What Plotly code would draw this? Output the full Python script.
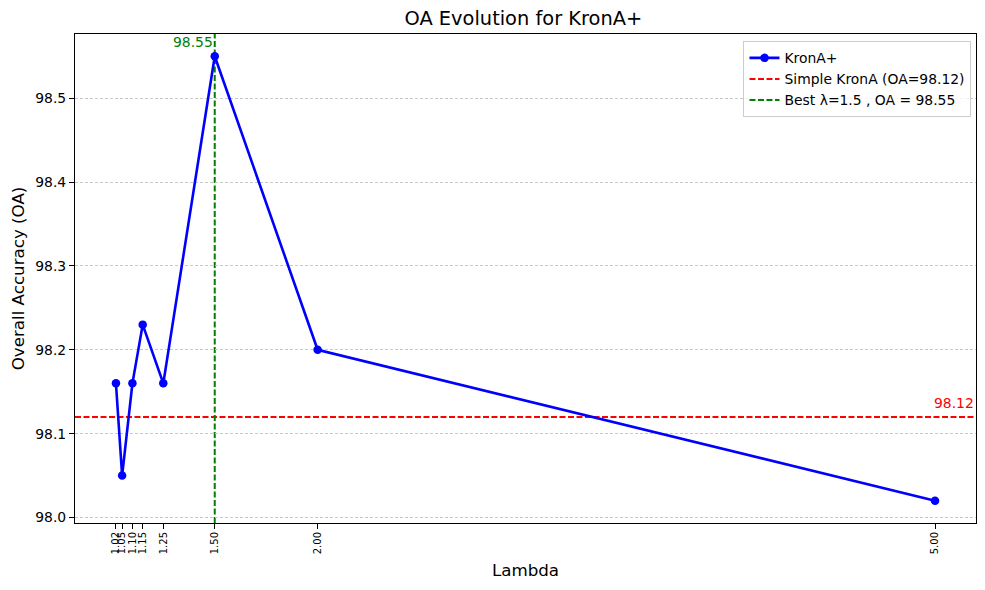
import plotly.graph_objects as go

lambdas = [1.02, 1.05, 1.10, 1.15, 1.25, 1.50, 2.00, 5.00]
oa_values = [98.16, 98.05, 98.16, 98.23, 98.16, 98.55, 98.20, 98.02]
tick_labels = ["1.02", "1.05", "1.10", "1.15", "1.25", "1.50", "2.00", "5.00"]
simple_oa = 98.12
best_lambda = 1.5
best_oa = 98.55

font = "DejaVu Sans"

fig = go.Figure()
fig.add_trace(go.Scatter(
    x=lambdas, y=oa_values, mode="lines+markers", name="KronA+",
    line=dict(color="#0000ff", width=2.6),
    marker=dict(color="#0000ff", size=8.5),
))

fig.add_hline(y=simple_oa, line=dict(color="#ff0000", width=2, dash="6px,2.5px"),
              showlegend=True, name=f"Simple KronA (OA={simple_oa})", layer="below")
fig.add_vline(x=best_lambda, line=dict(color="#008000", width=2, dash="6px,2.5px"),
              showlegend=True, name=f"Best λ={best_lambda} , OA = {best_oa}", layer="below")

fig.add_annotation(x=best_lambda, y=best_oa, text=f"{best_oa:.2f}", showarrow=False,
                   xanchor="right", yanchor="bottom", yshift=4, xshift=0,
                   font=dict(color="#008000", size=13.9, family=font))
fig.add_annotation(x=1, xref="paper", y=simple_oa, text=f"{simple_oa:.2f}", showarrow=False,
                   xanchor="right", yanchor="bottom", yshift=4,
                   font=dict(color="#ff0000", size=13.9, family=font))

span = max(lambdas) - min(lambdas)
yspan = max(oa_values) - min(oa_values)

# the page body adds an 8px margin, so the figure is drawn 8px in from the corner
fig.update_layout(
    width=977, height=582,
    margin=dict(l=64, r=8, t=26, b=67),
    plot_bgcolor="white", paper_bgcolor="white",
    font=dict(family=font, size=13.9, color="black"),
    title=dict(text="OA Evolution for KronA+", x=0.5275, xanchor="center",
               y=1 - 10 / 582, yanchor="middle", font=dict(size=19.4)),
    legend=dict(x=0.995, y=0.985, xanchor="right", yanchor="top",
                bgcolor="rgba(255,255,255,0.8)", bordercolor="#cccccc", borderwidth=1,
                font=dict(size=13.9), itemwidth=30, tracegroupgap=0),
)
fig.update_xaxes(
    range=[min(lambdas) - 0.05 * span, max(lambdas) + 0.05 * span],
    tickmode="array", tickvals=lambdas, ticktext=tick_labels, tickangle=-90,
    tickfont=dict(size=10), ticks="outside", ticklen=5, tickcolor="black",
    ticklabelstandoff=-1,
    showline=True, linecolor="black", linewidth=1, mirror=True, showgrid=False,
    zeroline=False,
    title=dict(text="Lambda", font=dict(size=16.7), standoff=11),
)
fig.update_yaxes(
    range=[min(oa_values) - 0.05 * yspan, max(oa_values) + 0.05 * yspan],
    dtick=0.1, tickformat=".1f", ticks="outside", ticklen=5, tickcolor="black",
    showline=True, linecolor="black", linewidth=1, mirror=True,
    showgrid=True, gridcolor="#c8c8c8", griddash="3px,2px", gridwidth=1, zeroline=False,
    title=dict(text="Overall Accuracy (OA)", font=dict(size=16.7), standoff=8),
)

fig.write_html("out.html")
